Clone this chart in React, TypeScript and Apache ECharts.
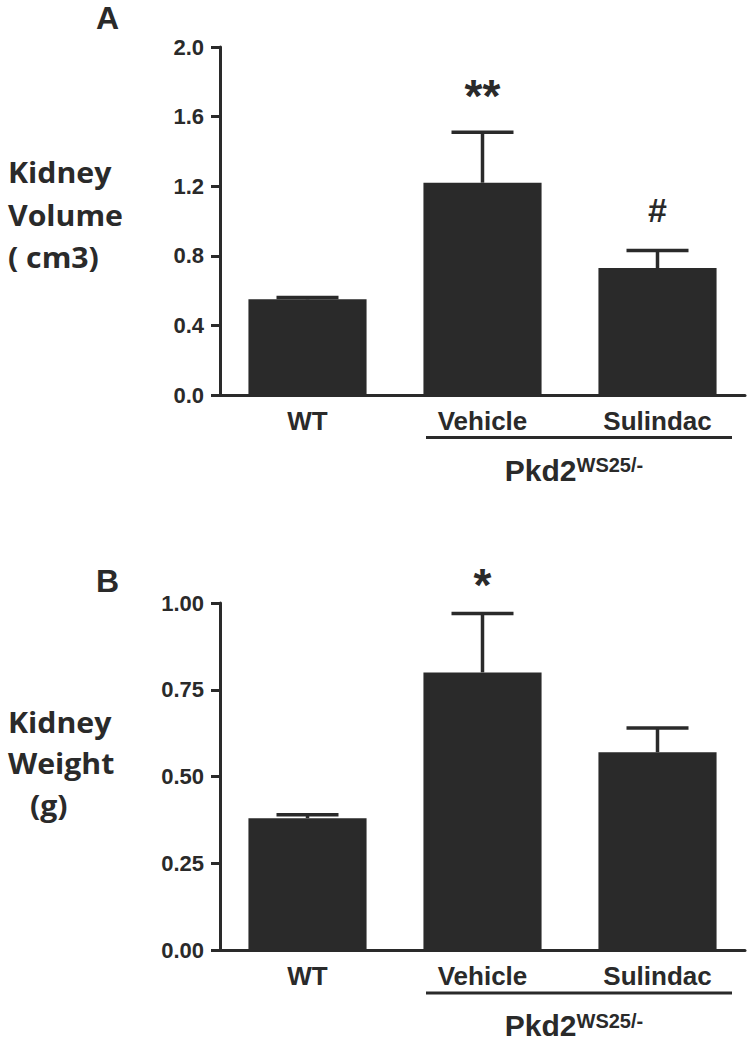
import React, { useEffect, useRef } from "react";
import * as echarts from "echarts";

const categories = ["WT", "Vehicle", "Sulindac"];
const volumeMean = [0.55, 1.22, 0.73];
const volumeUpper = [0.56, 1.51, 0.83];
const volumeMarks = ["", "**", "#"];
const weightMean = [0.38, 0.8, 0.57];
const weightUpper = [0.39, 0.97, 0.64];
const weightMarks = ["", "*", ""];
const volumeAxis = { min: 0, max: 2, interval: 0.4, digits: 1 };
const weightAxis = { min: 0, max: 1, interval: 0.25, digits: 2 };

const INK = "#2a2a2a";
const ARIAL = "'Liberation Sans', Arial, sans-serif";
const CAL = "'Open Sans', 'Noto Sans', sans-serif";

const markStyle: Record<string, { size: number; lift: number }> = {
  "**": { size: 46, lift: 36 },
  "*": { size: 46, lift: 28 },
  "#": { size: 34, lift: 41 },
};

function errorSeries(idx: number, mean: number[], upper: number[], marks: string[]) {
  return {
    type: "custom",
    xAxisIndex: idx,
    yAxisIndex: idx,
    clip: false,
    z: 5,
    encode: { x: 0, y: 2 },
    data: categories.map((_, i) => [i, mean[i], upper[i]]),
    renderItem: (params: any, api: any) => {
      const x = api.value(0);
      const top = api.coord([x, api.value(2)]);
      const base = api.coord([x, api.value(1)]);
      const hw = 31;
      const mark = marks[params.dataIndex];
      const st = { stroke: INK, lineWidth: 3.5 };
      const children: any[] = [
        { type: "line", shape: { x1: top[0], y1: base[1], x2: top[0], y2: top[1] }, style: st },
        { type: "line", shape: { x1: top[0] - hw, y1: top[1], x2: top[0] + hw, y2: top[1] }, style: st },
      ];
      if (mark) {
        const ms = markStyle[mark];
        children.push({
          type: "text",
          x: top[0],
          y: top[1] - ms.lift,
          style: {
            text: mark,
            fill: INK,
            font: `bold ${ms.size}px ${ARIAL}`,
            textAlign: "center",
            textVerticalAlign: "middle",
          },
        });
      }
      return { type: "group", children };
    },
  };
}

function yAxisFor(idx: number, ax: any) {
  return {
    type: "value",
    gridIndex: idx,
    min: ax.min,
    max: ax.max,
    interval: ax.interval,
    splitLine: { show: false },
    axisLine: { show: true, lineStyle: { color: INK, width: 3 } },
    axisTick: { show: true, length: 9, lineStyle: { color: INK, width: 3 } },
    axisLabel: {
      color: INK,
      fontSize: 22,
      fontWeight: "bold",
      fontFamily: ARIAL,
      margin: 16,
      formatter: (v: number) => v.toFixed(ax.digits),
    },
  };
}

function xAxisFor(idx: number) {
  return {
    type: "category",
    gridIndex: idx,
    data: categories,
    axisLine: { show: true, lineStyle: { color: INK, width: 3 } },
    axisTick: { show: false },
    axisLabel: { color: INK, fontSize: 26, fontWeight: "bold", fontFamily: ARIAL, margin: 13 },
  };
}

function bracket(y: number) {
  return [
    { type: "line", shape: { x1: 426, y1: y, x2: 732, y2: y }, style: { stroke: INK, lineWidth: 3 } },
    {
      type: "text",
      x: 574,
      y: y + 32.5,
      style: {
        text: "{a|Pkd2}{b|WS25/-}",
        textAlign: "center",
        textVerticalAlign: "middle",
        rich: {
          a: { font: `bold 30px ${ARIAL}`, fill: INK, color: INK },
          b: { font: `bold 20px ${ARIAL}`, fill: INK, color: INK, padding: [0, 0, 10, 0] },
        },
      },
    },
  ];
}

function label(text: string, x: number, y: number) {
  return {
    type: "text",
    x,
    y,
    scaleX: 1.08,
    style: { text, font: `bold 28px ${CAL}`, fill: INK, textAlign: "left", textVerticalAlign: "middle" },
  };
}

export default function App() {
  const ref = useRef<HTMLDivElement>(null);
  useEffect(() => {
    document.body.style.margin = "0";
    const chart = echarts.init(ref.current!, null, { renderer: "svg" });
    chart.setOption({
      animation: false,
      backgroundColor: "#ffffff",
      grid: [
        { left: 220, width: 525, top: 47, height: 348 },
        { left: 220, width: 525, top: 603, height: 347 },
      ],
      xAxis: [xAxisFor(0), xAxisFor(1)],
      yAxis: [yAxisFor(0, volumeAxis), yAxisFor(1, weightAxis)],
      series: [
        {
          type: "bar",
          xAxisIndex: 0,
          yAxisIndex: 0,
          data: volumeMean,
          barWidth: "67.5%",
          itemStyle: { color: INK },
        },
        {
          type: "bar",
          xAxisIndex: 1,
          yAxisIndex: 1,
          data: weightMean,
          barWidth: "67.5%",
          itemStyle: { color: INK },
        },
        errorSeries(0, volumeMean, volumeUpper, volumeMarks),
        errorSeries(1, weightMean, weightUpper, weightMarks),
      ],
      graphic: [
        { type: "text", x: 96, y: 18, style: { text: "A", font: `bold 32px ${ARIAL}`, fill: INK, textVerticalAlign: "middle" } },
        { type: "text", x: 96, y: 581, style: { text: "B", font: `bold 32px ${ARIAL}`, fill: INK, textVerticalAlign: "middle" } },
        label("Kidney", 8, 172),
        label("Volume", 8, 215),
        label("( cm3)", 8, 257),
        label("Kidney", 8, 722),
        label("Weight", 8, 763),
        label("(g)", 30, 805),
        ...bracket(437.5),
        ...bracket(993),
      ],
    });
    return () => chart.dispose();
  }, []);
  return <div ref={ref} style={{ width: 753, height: 1043 }} />;
}
